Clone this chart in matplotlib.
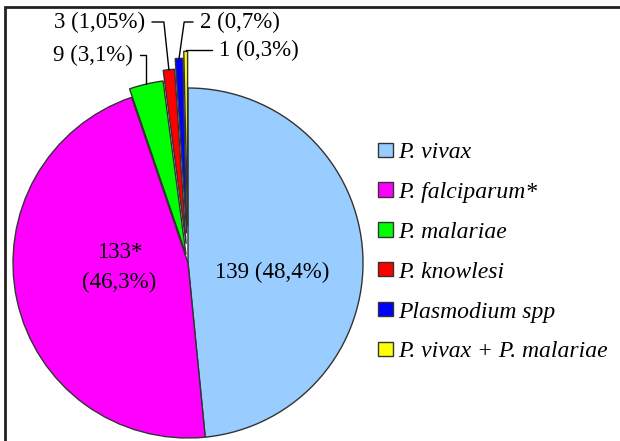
import matplotlib.pyplot as plt
import numpy as np
from matplotlib.lines import Line2D
from matplotlib.patches import Rectangle

plt.rcParams['font.family'] = ['Liberation Serif', 'DejaVu Serif']

species = ['P. vivax', 'P. falciparum*', 'P. malariae', 'P. knowlesi',
           'Plasmodium spp', 'P. vivax + P. malariae']
counts = [139, 133, 9, 3, 2, 1]
count_labels = ['139', '133*', '9', '3', '2', '1']
pct_labels = ['48,4%', '46,3%', '3,1%', '1,05%', '0,7%', '0,3%']

colors = ['#99CCFF', '#FF00FF', '#00FF00', '#FF0000', '#0000FF', '#FFFF00']
explode = [0, 0, 0.05, 0.11, 0.17, 0.21]
FS = 16.5
LEG_FS = 17

W, H = 620, 441
fig = plt.figure(figsize=(W / 100, H / 100), dpi=100)
cx, cy, R = 188, 178, 175  # pie centre / radius in figure pixels (from bottom)
ax = fig.add_axes([(cx - R) / W, (cy - R) / H, 2 * R / W, 2 * R / H])

wedges, _ = ax.pie(counts, colors=colors, explode=explode, startangle=90,
                   counterclock=False,
                   wedgeprops=dict(edgecolor='#333333', linewidth=1.0))
for w in wedges:
    w.set_clip_on(False)
ax.set_xlim(-1, 1)
ax.set_ylim(-1, 1)
ax.set_aspect('auto')
ax.axis('off')

# labels inside the two big slices: (radius, two lines, y nudge)
inside = {0: (0.48, False, -0.075), 1: (0.40, True, 0.06)}
for i, (rr, two_lines, dy) in inside.items():
    w = wedges[i]
    mid = np.deg2rad((w.theta1 + w.theta2) / 2)
    sep = '\n' if two_lines else ' '
    ax.text(rr * np.cos(mid), rr * np.sin(mid) + dy,
            f'{count_labels[i]}{sep}({pct_labels[i]})',
            ha='center', va='center', fontsize=FS, linespacing=1.55)

# outside labels with leader lines: (text pos in fig pixels, ha, angleB)
outside = {
    2: ((133, 386), 'right', 90),
    3: ((145, 419), 'right', 96),
    4: ((200, 419), 'left', 82),
    5: ((219, 391), 'left', 90),
}
for i, (pos, ha, angB) in outside.items():
    w = wedges[i]
    mid = np.deg2rad((w.theta1 + w.theta2) / 2)
    px = w.center[0] + w.r * np.cos(mid)
    py = w.center[1] + w.r * np.sin(mid)
    ax.annotate(f'{count_labels[i]} ({pct_labels[i]})', xy=(px, py),
                xytext=pos, textcoords='figure pixels',
                ha=ha, va='center', fontsize=FS,
                arrowprops=dict(arrowstyle='-', color='black', lw=1.0,
                                shrinkA=3, shrinkB=0,
                                relpos=(1, 0.5) if ha == 'right' else (0, 0.5),
                                connectionstyle=f'angle,angleA=0,angleB={angB},rad=0'),
                annotation_clip=False)

handles = [Rectangle((0, 0), 1, 1, facecolor=c, edgecolor='#333333', lw=1.0)
           for c in colors]
fig.legend(handles, species, loc='upper left',
           bbox_to_anchor=(378 / W, 1 - 142 / H), frameon=False,
           prop=dict(family='Liberation Serif', style='italic', size=LEG_FS),
           handlelength=0.62, handleheight=0.55, handletextpad=0.25,
           labelspacing=0.8, borderaxespad=0, borderpad=0)

# outer frame (top and left only visible)
fig.add_artist(Line2D([5 / W, 5 / W, 1.05], [-0.05, 434 / H, 434 / H],
                      transform=fig.transFigure, color='#222222', lw=2,
                      solid_capstyle='butt', solid_joinstyle='miter'))

fig.savefig('out.png', dpi=100)
